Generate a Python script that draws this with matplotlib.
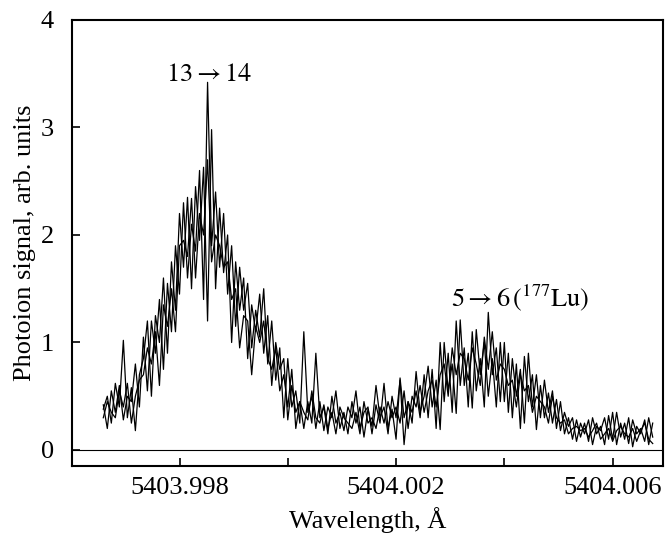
import numpy as np
import matplotlib
matplotlib.use("Agg")
import matplotlib.pyplot as plt

plt.rcParams['font.family'] = ['Liberation Serif', 'DejaVu Serif']
plt.rcParams['mathtext.fontset'] = 'stix'

# wavelength scan (Angstrom), same grid for the three scans
wl_start = 5403.99659
wl_end = 5404.00674
n_pts = 138

scan_a = [0.42, 0.20, 0.55, 0.35, 0.60, 0.28, 0.50, 0.45, 0.80, 0.40,
          1.05, 0.55, 1.20, 0.90, 1.40, 0.75, 1.55, 1.10, 1.90, 1.45,
          2.30, 1.60, 2.10, 1.85, 2.60, 1.40, 3.42, 1.90, 2.40, 1.70,
          2.20, 1.45, 1.90, 1.15, 1.70, 1.30, 1.55, 0.95, 1.30, 1.05,
          1.50, 0.80, 1.20, 0.65, 0.95, 0.30, 0.85, 0.40, 0.55, 0.25,
          1.10, 0.35, 0.50, 0.20, 0.45, 0.18, 0.40, 0.30, 0.55, 0.20,
          0.35, 0.15, 0.45, 0.25, 0.40, 0.12, 0.38, 0.22, 0.60, 0.30,
          0.40, 0.15, 0.50, 0.30, 0.65, 0.05, 0.45, 0.35, 0.55, 0.30,
          0.70, 0.30, 0.75, 0.20, 1.00, 0.45, 0.90, 0.35, 1.20, 0.60,
          0.95, 0.40, 1.10, 0.55, 0.85, 0.40, 1.28, 0.70, 0.95, 0.45,
          1.00, 0.35, 0.85, 0.50, 0.75, 0.25, 0.90, 0.40, 0.70, 0.30,
          0.65, 0.35, 0.55, 0.20, 0.45, 0.15, 0.30, 0.10, 0.28, 0.12,
          0.25, 0.08, 0.30, 0.15, 0.22, 0.05, 0.32, 0.10, 0.35, 0.12,
          0.25, 0.06, 0.28, 0.15, 0.20, 0.08, 0.30, 0.12]

scan_b = [0.38, 0.50, 0.25, 0.62, 0.40, 1.02, 0.30, 0.58, 0.18, 0.70,
          0.85, 1.20, 0.50, 1.25, 1.00, 1.60, 0.90, 1.75, 1.30, 2.20,
          1.70, 2.35, 1.50, 2.45, 1.95, 2.63, 1.20, 2.98, 1.50, 2.25,
          1.65, 2.00, 1.00, 1.75, 1.30, 1.60, 0.85, 1.35, 1.10, 1.45,
          0.90, 1.25, 0.60, 1.00, 0.75, 0.85, 0.28, 0.60, 0.35, 0.45,
          0.20, 0.45, 0.25, 0.90, 0.30, 0.40, 0.15, 0.50, 0.25, 0.35,
          0.18, 0.40, 0.30, 0.55, 0.20, 0.35, 0.40, 0.15, 0.42, 0.25,
          0.62, 0.20, 0.38, 0.10, 0.67, 0.30, 0.45, 0.25, 0.73, 0.35,
          0.50, 0.78, 0.40, 0.65, 0.19, 1.00, 0.55, 0.80, 0.34, 1.21,
          0.60, 0.90, 0.39, 1.12, 0.70, 1.00, 0.50, 0.85, 0.40, 1.00,
          0.45, 0.90, 0.30, 0.80, 0.20, 0.87, 0.45, 0.70, 0.19, 0.60,
          0.30, 0.53, 0.25, 0.47, 0.18, 0.35, 0.22, 0.30, 0.08, 0.25,
          0.15, 0.28, 0.05, 0.22, 0.18, 0.30, 0.10, 0.35, 0.05, 0.25,
          0.10, 0.30, 0.03, 0.22, 0.15, 0.28, 0.05, 0.25]

scan_c = [0.30, 0.45, 0.35, 0.30, 0.55, 0.40, 0.62, 0.25, 0.50, 0.65,
          0.70, 0.95, 0.80, 1.10, 0.60, 1.35, 1.15, 1.50, 1.10, 1.90,
          1.95, 1.80, 2.34, 1.60, 2.20, 2.00, 2.70, 1.75, 2.00, 1.90,
          1.70, 1.75, 1.40, 1.50, 0.95, 1.25, 1.20, 0.70, 1.15, 1.00,
          1.20, 0.85, 0.75, 0.95, 0.55, 0.70, 0.40, 0.75, 0.20, 0.45,
          0.35, 0.28, 0.55, 0.30, 0.25, 0.42, 0.20, 0.35, 0.15, 0.40,
          0.30, 0.25, 0.20, 0.35, 0.15, 0.45, 0.25, 0.30, 0.20, 0.40,
          0.25, 0.45, 0.30, 0.40, 0.25, 0.55, 0.20, 0.50, 0.40, 0.60,
          0.35, 0.55, 0.65, 0.40, 0.70, 0.80, 0.50, 0.95, 0.70, 0.90,
          0.85, 0.65, 0.95, 0.80, 0.60, 1.05, 0.75, 1.10, 0.65, 0.80,
          0.75, 0.60, 0.65, 0.40, 0.70, 0.55, 0.60, 0.35, 0.50, 0.45,
          0.40, 0.25, 0.50, 0.30, 0.25, 0.28, 0.15, 0.20, 0.22, 0.18,
          0.20, 0.12, 0.18, 0.25, 0.10, 0.15, 0.20, 0.08, 0.18, 0.22,
          0.15, 0.12, 0.20, 0.08, 0.18, 0.25, 0.10, 0.06]

major_ticks = [5403.998, 5404.002, 5404.006]
minor_ticks = [5404.000, 5404.004]

wl = np.linspace(wl_start, wl_end, n_pts)

fig = plt.figure(figsize=(6.72, 5.33), dpi=100)
ax = fig.add_axes([0.107, 0.1257, 0.8796, 0.8368])

for s in [scan_a, scan_b, scan_c]:
    ax.plot(wl, s, color='black', lw=0.9)
ax.axhline(0, color='black', lw=0.8)

ax.set_xlim(5403.99601, 5404.00693)
ax.set_ylim(-0.149, 4.0)
ax.set_yticks([0, 1, 2, 3, 4])
ax.set_xticks(major_ticks)
ax.set_xticklabels(['5403.998', '5404.002', '5404.006'])
ax.set_xticks(minor_ticks, minor=True)

ax.tick_params(axis='both', which='both', direction='in', length=6, width=1.2,
               labelsize=19, top=False, right=False)
ax.tick_params(axis='x', pad=8)
ax.tick_params(axis='y', pad=13)
for sp in ax.spines.values():
    sp.set_linewidth(1.5)

ax.set_xlabel('Wavelength, Å', fontsize=19, labelpad=6)
ax.set_ylabel('Photoion signal, arb. units', fontsize=19, labelpad=3)

ax.text(5403.99855, 3.43, r'$13\rightarrow14$', fontsize=19, ha='center', va='baseline')
ax.text(5404.00430, 1.34, r'$5\rightarrow6\,(^{177}\mathrm{Lu})$', fontsize=19,
        ha='center', va='baseline')

fig.savefig('out.png', dpi=100)
